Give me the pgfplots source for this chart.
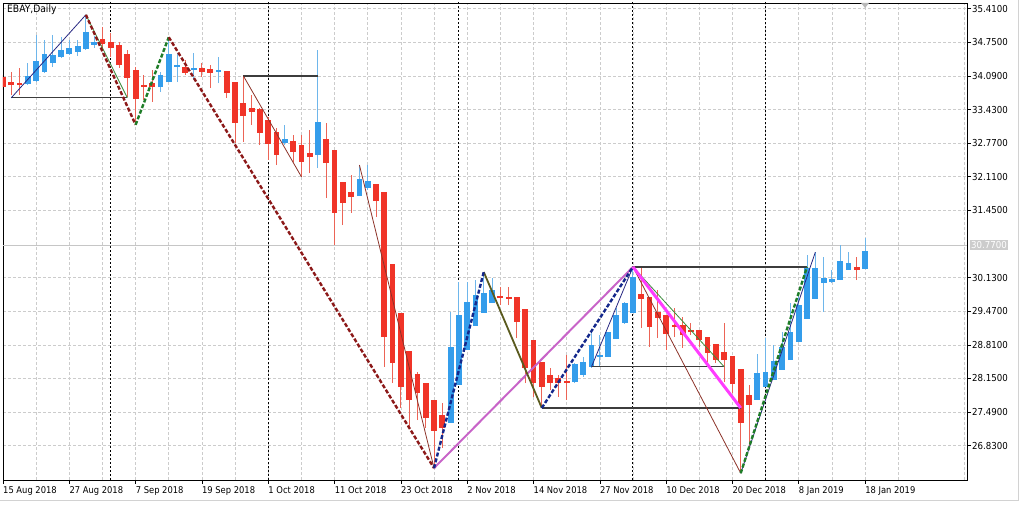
\documentclass[border=0pt]{standalone}
\usepackage{fontspec}
\setmainfont{DejaVu Sans Condensed}
\usepackage{pgfplots}
\usepackage{pgfplotstable}
\pgfplotsset{compat=1.18}
\definecolor{bullc}{RGB}{52,157,235}
\definecolor{bullw}{RGB}{110,182,235}
\definecolor{bearc}{RGB}{240,52,40}
\definecolor{bearw}{RGB}{236,100,86}
\definecolor{zzred}{RGB}{140,25,25}
\definecolor{zzgreen}{RGB}{30,125,40}
\definecolor{zznavy}{RGB}{20,40,140}
\definecolor{thinnavy}{RGB}{40,40,130}
\definecolor{thinbrown}{RGB}{140,50,40}
\definecolor{thingreen}{RGB}{60,140,60}
\definecolor{orchidc}{RGB}{200,100,200}
\definecolor{magc}{RGB}{255,60,255}
\definecolor{oliv}{RGB}{90,90,30}
\definecolor{hline}{RGB}{60,60,60}

% bullish candles: index, body low (open), body high (close), low, high
\pgfplotstableread{
i lo hi l h
3 33.93 34.09 33.91 34.34
4 33.99 34.38 33.97 34.89
5 34.17 34.52 34.15 34.80
6 34.34 34.50 34.27 34.89
7 34.46 34.60 34.44 34.85
8 34.52 34.64 34.50 34.80
9 34.56 34.68 34.48 34.80
10 34.62 34.95 34.60 35.29
11 34.70 34.76 34.64 34.87
19 33.87 34.11 33.77 34.17
20 33.97 34.52 33.97 34.85
21 34.27 34.30 33.97 34.54
23 34.21 34.25 34.01 34.54
26 34.17 34.19 33.95 34.46
34 32.77 32.85 32.73 33.13
38 32.54 33.19 32.28 34.60
43 31.73 32.07 31.73 32.34
44 31.89 32.03 31.85 32.34
54 27.28 28.77 27.28 29.46
55 28.02 29.40 28.02 30.04
56 28.71 29.65 28.71 30.04
57 29.18 29.79 29.18 30.08
58 29.44 29.83 29.44 30.24
59 29.63 29.89 29.63 30.12
69 28.08 28.43 28.06 28.45
70 28.22 28.47 28.18 28.57
71 28.38 28.81 28.36 29.10
72 28.57 28.61 28.38 29.00
73 28.57 29.06 28.57 29.06
74 28.92 29.40 28.92 29.53
75 29.24 29.63 29.22 29.65
76 29.43 30.14 29.43 30.34
91 27.73 28.26 27.73 28.63
92 27.98 28.28 27.98 28.94
93 28.12 28.49 28.12 28.81
94 28.32 28.77 28.32 29.06
95 28.51 29.06 28.51 29.63
96 28.87 29.59 28.87 29.83
97 29.32 30.32 29.32 30.57
98 29.71 30.32 29.71 30.63
99 30.02 30.12 29.46 30.54
100 30.04 30.10 30.02 30.28
101 30.08 30.46 30.08 30.77
102 30.28 30.42 30.28 30.63
104 30.30 30.65 30.30 30.91
}\bull

% bearish candles: index, body low (close), body high (open), low, high
\pgfplotstableread{
i lo hi l h
0 33.87 34.07 33.81 34.11
1 33.91 33.97 33.72 34.17
2 33.91 33.95 33.72 34.25
12 34.72 34.82 34.60 35.05
13 34.64 34.76 34.46 34.93
14 34.30 34.70 34.25 34.76
15 34.05 34.52 33.68 34.60
16 33.64 34.21 33.13 34.27
17 33.87 33.91 33.62 34.11
18 33.87 33.95 33.58 34.21
22 34.15 34.27 34.11 34.40
24 34.17 34.25 34.07 34.34
25 34.15 34.23 33.85 34.31
27 33.76 34.19 33.66 34.19
28 33.17 33.97 32.77 33.97
29 33.30 33.56 32.79 34.09
30 33.38 33.46 33.13 33.72
31 32.97 33.44 32.73 33.46
32 32.75 33.22 32.44 33.28
33 32.54 32.99 32.34 33.07
35 32.60 32.81 32.40 32.93
36 32.40 32.73 32.11 32.93
37 32.50 32.58 32.18 33.03
39 32.38 32.85 31.69 33.17
40 31.40 32.64 30.77 32.64
41 31.59 32.01 31.16 32.01
42 31.71 31.81 31.40 32.14
45 31.63 31.97 31.32 31.97
46 28.96 31.81 28.38 31.81
47 28.45 30.40 28.06 30.40
48 27.98 29.43 27.57 29.43
49 27.73 28.69 27.20 28.69
50 27.86 28.24 27.33 28.28
51 27.37 28.06 27.18 28.06
52 27.12 27.73 26.39 27.73
53 27.18 27.43 26.79 27.67
60 29.73 29.75 29.59 29.95
61 29.71 29.75 29.59 29.95
62 29.26 29.75 28.94 29.75
63 28.36 29.51 28.06 29.51
64 28.06 28.91 27.79 28.91
65 27.98 28.47 27.57 28.47
66 28.06 28.22 27.92 28.36
67 28.06 28.16 27.79 28.22
68 28.06 28.08 27.73 28.61
77 29.71 29.81 29.14 30.32
78 29.16 29.75 28.77 29.75
79 29.34 29.46 28.94 29.89
80 29.02 29.40 28.71 29.40
81 29.16 29.20 28.96 29.53
82 29.00 29.20 28.75 29.36
83 29.06 29.10 29.00 29.24
84 28.91 29.10 28.77 29.10
85 28.65 28.96 28.47 28.96
86 28.51 28.83 28.45 28.83
87 28.51 28.67 28.08 29.24
88 28.04 28.59 27.86 28.59
89 27.28 28.34 26.29 28.34
90 27.63 27.82 26.80 28.02
103 30.28 30.34 30.08 30.54
}\bear

\begin{document}
\begin{tikzpicture}
\begin{axis}[
  name=main,
  at={(3pt,25pt)}, anchor=south west,
  width=964pt, height=477pt, scale only axis,
  xmin=0, xmax=116.3, ymin=26.156, ymax=35.522,
  axis line style={black, line width=0.8pt},
  xtick={0,8,...,104},
  xticklabels={15 Aug 2018, 27 Aug 2018, 7 Sep 2018, 19 Sep 2018, 1 Oct 2018, 11 Oct 2018, 23 Oct 2018, 2 Nov 2018, 14 Nov 2018, 27 Nov 2018, 10 Dec 2018, 20 Dec 2018, 8 Jan 2019, 18 Jan 2019},
  minor xtick={4,12,...,116},
  ytick={26.83,27.49,28.15,28.81,29.47,30.13,31.45,32.11,32.77,33.43,34.09,34.75,35.41},
  yticklabels={26.8300,27.4900,28.1500,28.8100,29.4700,30.1300,31.4500,32.1100,32.7700,33.4300,34.0900,34.7500,35.4100},
  xtick pos=left, ytick pos=right, yticklabel pos=right,
  tick align=outside, major tick length=4pt, minor tick length=0pt,
  tick style={black, line width=0.6pt},
  grid=both,
  major grid style={draw=gray!40, dash pattern=on 3pt off 2pt, line width=0.6pt},
  minor grid style={draw=gray!40, dash pattern=on 3pt off 2pt, line width=0.6pt},
  xticklabel style={anchor=north west, inner sep=0pt, font=\fontsize{9.3}{10}\selectfont, yshift=-2pt},
  yticklabel style={anchor=west, inner sep=0pt, font=\fontsize{9.6}{10}\selectfont, xshift=1pt},
]
% price line
\addplot[gray!45, line width=0.8pt, forget plot] coordinates {(0,30.77) (116.3,30.77)};
% month separators
\addplot[black, line width=1pt, dash pattern=on 2pt off 2pt, forget plot] coordinates {(13,26) (13,36)};
\addplot[black, line width=1pt, dash pattern=on 2pt off 2pt, forget plot] coordinates {(32,26) (32,36)};
\addplot[black, line width=1pt, dash pattern=on 2pt off 2pt, forget plot] coordinates {(55,26) (55,36)};
\addplot[black, line width=1pt, dash pattern=on 2pt off 2pt, forget plot] coordinates {(76,26) (76,36)};
\addplot[black, line width=1pt, dash pattern=on 2pt off 2pt, forget plot] coordinates {(92,26) (92,36)};

% wicks
\addplot[draw=none, mark=none, forget plot, error bars/.cd, y dir=plus, y explicit, error mark=none,
  error bar style={draw=bullw, line width=1pt, solid}]
  table[x=i, y=l, y error plus expr={\thisrow{h}-\thisrow{l}}] {\bull};
\addplot[draw=none, mark=none, forget plot, error bars/.cd, y dir=plus, y explicit, error mark=none,
  error bar style={draw=bearw, line width=1pt, solid}]
  table[x=i, y=l, y error plus expr={\thisrow{h}-\thisrow{l}}] {\bear};
% bodies
\addplot[draw=none, mark=none, forget plot, error bars/.cd, y dir=plus, y explicit, error mark=none,
  error bar style={draw=bullc, line width=5.8pt, solid}]
  table[x=i, y=lo, y error plus expr={max(\thisrow{hi}-\thisrow{lo},0.03)}] {\bull};
\addplot[draw=none, mark=none, forget plot, error bars/.cd, y dir=plus, y explicit, error mark=none,
  error bar style={draw=bearc, line width=5.8pt, solid}]
  table[x=i, y=lo, y error plus expr={max(\thisrow{hi}-\thisrow{lo},0.03)}] {\bear};

% horizontal levels
\addplot[hline, line width=1.2pt] coordinates {(1,33.66) (15,33.66)};
\addplot[hline, line width=1.2pt] coordinates {(29,34.09) (38,34.09)};
\addplot[hline, line width=1.2pt] coordinates {(65,27.57) (89,27.57)};
\addplot[hline, line width=1.2pt] coordinates {(71,28.38) (87,28.38)};
\addplot[hline, line width=1.2pt] coordinates {(76,30.34) (97,30.34)};
% thin legs
\addplot[thinnavy, line width=0.8pt] coordinates {(1,33.66) (10,35.29)};
\addplot[thingreen, line width=0.8pt] coordinates {(10,35.29) (15,33.66)};
\addplot[thinbrown, line width=0.8pt] coordinates {(29,34.09) (36,32.11)};
\addplot[thinbrown, line width=0.8pt] coordinates {(43,32.34) (52,26.39)};
\addplot[thinnavy, line width=0.8pt] coordinates {(71,28.38) (76,30.34)};
\addplot[thingreen, line width=0.8pt] coordinates {(76,30.34) (87,28.38)};
\addplot[thinbrown, line width=0.8pt] coordinates {(76,30.34) (89,26.29)};
\addplot[thinnavy, line width=0.8pt] coordinates {(89,26.29) (98,30.63)};
% thick lines
\addplot[orchidc, line width=2pt] coordinates {(52,26.39) (76,30.34)};
\addplot[magc, line width=3pt] coordinates {(76,30.34) (89,27.57)};
\addplot[oliv, line width=1.8pt] coordinates {(58,30.24) (65,27.57)};
% dashed zigzag
\addplot[zzred, line width=2.4pt, dash pattern=on 4pt off 2pt] coordinates {(10,35.29) (16,33.13)};
\addplot[zzgreen, line width=2.4pt, dash pattern=on 4pt off 2pt] coordinates {(16,33.13) (20,34.85)};
\addplot[zzred, line width=2.4pt, dash pattern=on 4pt off 2pt] coordinates {(20,34.85) (52,26.39)};
\addplot[zznavy, line width=2.4pt, dash pattern=on 4pt off 2pt] coordinates {(52,26.39) (58,30.24)};
\addplot[zznavy, line width=2.4pt, dash pattern=on 4pt off 2pt] coordinates {(65,27.57) (76,30.34)};
\addplot[zzgreen, line width=2.4pt, dash pattern=on 4pt off 2pt] coordinates {(89,26.29) (97,30.34)};

\coordinate (pl) at (axis cs:116.3,30.77);
\coordinate (tri) at (axis cs:104,35.522);
\end{axis}
\node[anchor=west, fill=gray!40, text=white, inner sep=1pt, font=\fontsize{9.6}{10}\selectfont] at ([xshift=3pt]pl) {30.7700};
\fill[gray!55] ([xshift=-4pt]tri) -- ([xshift=4pt]tri) -- ([yshift=-5pt]tri) -- cycle;
\node[anchor=north west, inner sep=0pt, font=\fontsize{10.2}{11}\selectfont] at (7pt,500pt) {EBAY,Daily};
\draw[gray!35, line width=1pt] (0pt,4pt) -- (1018pt,4pt) -- (1018pt,505pt);
\pgfresetboundingbox
\path (0pt,0pt) rectangle (1024pt,505pt);
\end{tikzpicture}
\end{document}
